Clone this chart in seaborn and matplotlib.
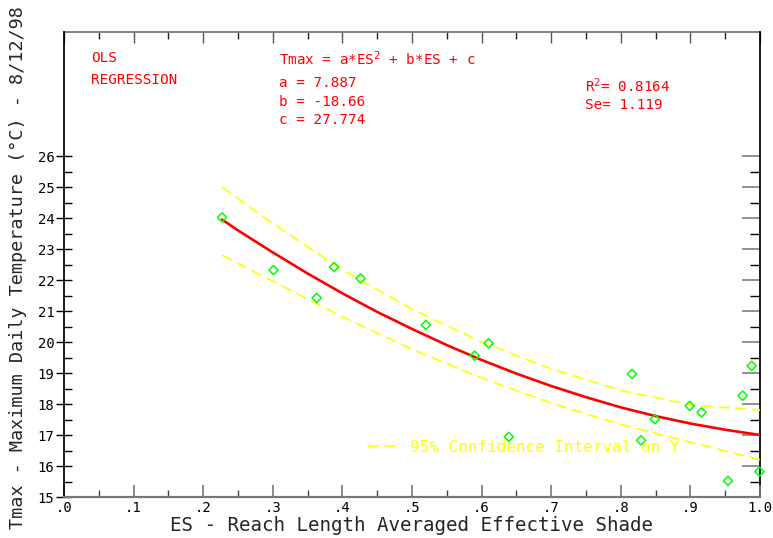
import numpy as np
import pandas as pd
import seaborn as sns
import matplotlib.pyplot as plt

es = [0.227, 0.301, 0.363, 0.388, 0.426, 0.520, 0.590, 0.610, 0.639,
      0.816, 0.829, 0.849, 0.899, 0.916, 0.954, 0.975, 0.988, 0.999]
tmax = [24.02, 22.32, 21.42, 22.42, 22.05, 20.55, 19.56, 19.96, 16.94,
        18.97, 16.83, 17.51, 17.94, 17.73, 15.52, 18.27, 19.23, 15.82]

# fitted curve
fit_x = [0.227, 0.25, 0.30, 0.35, 0.40, 0.45, 0.50, 0.55, 0.60,
         0.65, 0.70, 0.75, 0.80, 0.85, 0.90, 0.95, 1.00]
fit_y = [23.95, 23.60, 22.89, 22.21, 21.57, 20.97, 20.42, 19.90, 19.42,
         18.98, 18.58, 18.22, 17.89, 17.61, 17.37, 17.17, 17.00]

# 95% confidence band
ci_x = [0.227, 0.30, 0.40, 0.50, 0.60, 0.70, 0.80, 0.90, 1.00]
ci_hi = [25.00, 23.82, 22.33, 21.06, 20.00, 19.13, 18.44, 17.97, 17.80]
ci_lo = [22.80, 21.96, 20.81, 19.77, 18.84, 18.03, 17.34, 16.77, 16.20]

xticks = np.round(np.arange(0, 1.01, 0.1), 1)
xlabels = ['.0', '.1', '.2', '.3', '.4', '.5', '.6', '.7', '.8', '.9', '1.0']
yticks = list(range(15, 27))

sns.set_theme(style='white')
plt.rcParams['font.family'] = ['DejaVu Sans Mono', 'DejaVu Sans']

RED = '#ff0000'
GRN = '#00ff00'
YEL = '#ffff00'

fig = plt.figure(figsize=(7.73, 5.38), dpi=100)
ax = fig.add_axes([0.0828, 0.0762, 0.9004, 0.8643])

pts = pd.DataFrame({'ES': es, 'Tmax': tmax})
fit = pd.DataFrame({'ES': fit_x, 'Tmax': fit_y})
band = pd.DataFrame({'ES': ci_x, 'hi': ci_hi, 'lo': ci_lo})

dash = (0, (6.5, 3.5))
sns.lineplot(data=band, x='ES', y='hi', color=YEL, lw=1.2, linestyle=dash,
             ax=ax, label='95% Confidence Interval on Y')
sns.lineplot(data=band, x='ES', y='lo', color=YEL, lw=1.2, linestyle=dash, ax=ax)
sns.lineplot(data=fit, x='ES', y='Tmax', color=RED, lw=1.9, ax=ax)
sns.scatterplot(data=pts, x='ES', y='Tmax', marker='D', s=22, facecolor='none',
                edgecolor=GRN, linewidth=1.1, ax=ax, clip_on=False, zorder=5)

ax.set_xlim(0, 1.0)
ax.set_ylim(15, 30)

ax.set_xticks(xticks)
ax.set_xticklabels(xlabels)
ax.set_xticks(np.arange(0.05, 1.0, 0.1), minor=True)
ax.set_yticks(yticks)
ax.set_yticklabels([str(v) for v in yticks])
ax.set_yticks(np.arange(15.5, 26, 1.0), minor=True)

ax.tick_params(axis='x', which='major', direction='in', length=9, width=1.2,
               color='#777777', labelsize=10, pad=3, labelcolor='black')
ax.tick_params(axis='x', which='minor', direction='in', length=5, width=1.0,
               color='#444444')
ax.tick_params(axis='y', which='major', direction='inout', length=12, width=1.0,
               color='black', labelsize=10, pad=1, labelcolor='black')
ax.tick_params(axis='y', which='minor', direction='in', length=6, width=1.0,
               color='black')
ax.tick_params(bottom=True, left=True, which='both')

top = ax.secondary_xaxis('top')
top.set_xticks(xticks)
top.set_xticks(np.arange(0.05, 1.0, 0.1), minor=True)
top.tick_params(which='major', direction='in', length=8, width=1.0,
                color='#555555', labeltop=False)
top.tick_params(which='minor', direction='in', length=5, width=1.0,
                color='#222222')
top.spines['top'].set_color('#777777')
top.spines['top'].set_linewidth(1.3)

right = ax.secondary_yaxis('right')
right.set_yticks(yticks)
right.set_yticks(np.arange(15.5, 26, 1.0), minor=True)
right.tick_params(which='major', direction='in', length=13, width=1.3,
                  color='#888888', labelright=False)
right.tick_params(which='minor', direction='in', length=7, width=1.0,
                  color='black')
right.spines['right'].set_color('black')

for s in ['top', 'right']:
    ax.spines[s].set_visible(False)
ax.spines['left'].set_color('black')
ax.spines['bottom'].set_color('#777777')
ax.spines['bottom'].set_linewidth(1.6)

ax.set_xlabel('ES - Reach Length Averaged Effective Shade', fontsize=13.8)
ax.set_ylabel('Tmax - Maximum Daily Temperature (\u00b0C) - 8/12/98',
              fontsize=13.3)
ax.xaxis.set_label_coords(0.499, -0.040)
ax.yaxis.set_label_coords(-0.053, 0.493)

ax.text(0.039, 0.945, 'OLS', color=RED, fontsize=10.3, transform=ax.transAxes,
        va='center')
ax.text(0.039, 0.897, 'REGRESSION', color=RED, fontsize=10.3,
        transform=ax.transAxes, va='center')
ax.text(0.309, 0.942, 'Tmax = a*ES$^2$ + b*ES + c', color=RED, fontsize=10.3,
        transform=ax.transAxes, va='center')
ax.text(0.309, 0.890, 'a = 7.887', color=RED, fontsize=10.3,
        transform=ax.transAxes, va='center')
ax.text(0.309, 0.850, 'b = -18.66', color=RED, fontsize=10.3,
        transform=ax.transAxes, va='center')
ax.text(0.309, 0.810, 'c = 27.774', color=RED, fontsize=10.3,
        transform=ax.transAxes, va='center')
ax.text(0.748, 0.884, 'R$^2$= 0.8164', color=RED, fontsize=10.3,
        transform=ax.transAxes, va='center')
ax.text(0.748, 0.842, 'Se= 1.119', color=RED, fontsize=10.3,
        transform=ax.transAxes, va='center')

leg = ax.legend(loc='center left', bbox_to_anchor=(0.437, 0.1075),
                frameon=False, fontsize=11.5, handlelength=1.9,
                handletextpad=0.75, borderaxespad=0, borderpad=0,
                labelcolor='linecolor')

fig.savefig('out.png', dpi=100)
